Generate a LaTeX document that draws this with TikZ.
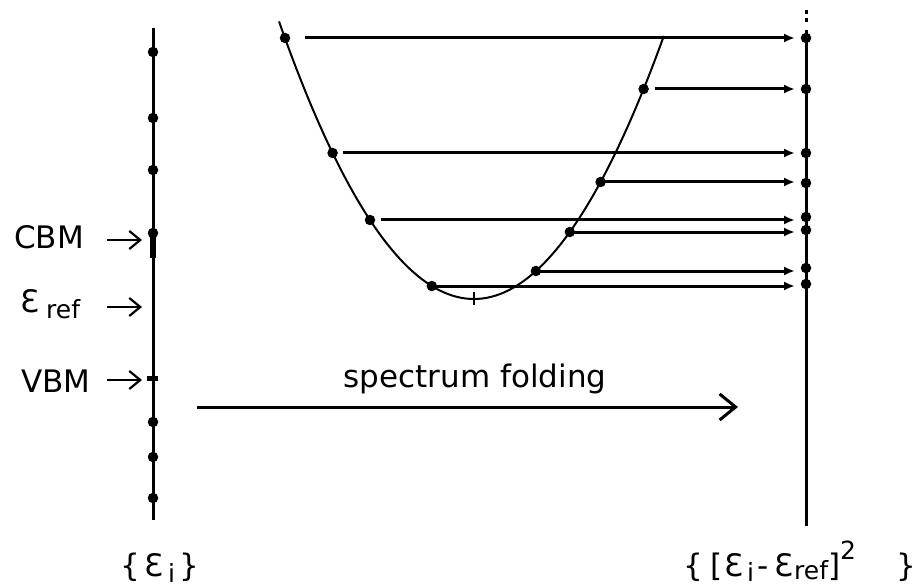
\documentclass[tikz,border=0pt]{standalone}
\usepackage{fontspec}
\setmainfont{DejaVu Sans}
\usetikzlibrary{arrows.meta}
\newcommand\epsE{Ɛ}
\newcommand\subf{\fontsize{25}{25}\selectfont}
\tikzset{
  axisline/.style={line width=3pt},
  bandcurve/.style={line width=2pt},
  hline/.style={line width=3pt,-{Latex[length=11pt,width=9pt]}},
  labarrow/.style={line width=2.2pt,-{Straight Barb[length=11pt,width=18pt]}},
  foldarrow/.style={line width=3pt,-{Straight Barb[length=16pt,width=26pt]}},
  dotmark/.style={circle,fill,inner sep=0pt,minimum size=10.5pt},
  lab/.style={font=\fontsize{31}{32}\selectfont,inner sep=0pt}
}
\begin{document}
\begin{tikzpicture}[x=1pt,y=-1pt]
\useasboundingbox (0,0) rectangle (918,588);
% ---------- left axis ----------
\coordinate (Ltop) at (153,28);
\coordinate (Lbot) at (153,520);
\draw[axisline] (Ltop) -- (Lbot);
\draw[line width=5.5pt] (153,237) -- (153,258);
\foreach \y/\n in {52/a,118/b,170/c,233/cbm,422/e,457/f,498/g}
  \node[dotmark] (L\n) at (153,\y) {};
\coordinate (Lvbm) at (153,378);
\draw[line width=5pt] ([xshift=-6pt]Lvbm) -- ([xshift=5pt]Lvbm);
% ---------- left labels ----------
\node[lab,anchor=base west] (cbm) at (14,248) {CBM};
\node[lab,anchor=base west] (eref) at (20,312) {\epsE\hspace{7pt}\raisebox{-6pt}{\subf ref}};
\node[lab,anchor=base west] (vbm) at (21,392) {VBM};
\coordinate (cbmtip) at (142,240);
\coordinate (ereftip) at (142,307);
\coordinate (vbmtip) at (142,380);
\draw[labarrow] (107,240) -- (cbmtip);
\draw[labarrow] (107,307) -- (ereftip);
\draw[labarrow] (107,380) -- (vbmtip);
% ---------- right axis ----------
\coordinate (Rtop) at (806,30);
\coordinate (Rbot) at (806,526);
\draw[axisline] (Rtop) -- (Rbot);
\fill (804.5,10.5) rectangle (807.5,14);
\fill (804.5,18.5) rectangle (807.5,22);
\foreach \y/\n in {38/1,89/2,153/3,183/4,217/5,230/6,268/7,284/8}
  \node[dotmark] (R\n) at (806,\y) {};
% ---------- band curve (parabola) ----------
\draw[bandcurve] plot[domain=-1.95:1.90,samples=90] ({474+100*\x},{299-73*\x*\x});
\draw[line width=2pt] (474,292) -- (474,305);
\foreach \x/\y/\n in {285/38/1,643.6/89/2,332.6/153/3,600.6/182/4,370/220/5,569.8/232/6,535.9/271/7,431.8/286/8}
  \node[dotmark] (c\n) at (\x,\y) {};
% ---------- folding lines ----------
\coordinate (arrx) at (795,0);
\draw[hline] ([xshift=20pt]c1.center) -- (c1 -| arrx);
\draw[hline] ([xshift=11pt]c2.center) -- (c2 -| arrx);
\draw[hline] ([xshift=10pt]c3.center) -- (c3 -| arrx);
\draw[hline] (c4.center) -- (c4 -| arrx);
\draw[hline] ([xshift=11pt]c5.center) -- (c5 -| arrx);
\draw[hline] (c6.center) -- (c6 -| arrx);
\draw[hline] (c7.center) -- (c7 -| arrx);
\draw[hline] (c8.center) -- (c8 -| arrx);
% ---------- spectrum folding ----------
\node[lab,anchor=base] (fold) at (475,387) {spectrum folding};
\coordinate (foldstart) at (197,407);
\coordinate (foldend) at (738,407);
\draw[foldarrow] (foldstart) -- (foldend);
% ---------- bottom labels ----------
\node[lab,anchor=base] (setE) at (160,576)
  {\{\hspace{5pt}\epsE\hspace{4pt}\raisebox{-6pt}{\subf i}\hspace{5pt}\}};
\node[lab,anchor=base west] (setF) at (683,576)
  {\{\hspace{8pt}[\hspace{2pt}\epsE\hspace{3pt}\raisebox{-5pt}{\subf i}\hspace{3pt}-\hspace{6pt}\epsE\hspace{1pt}\raisebox{-3pt}{\subf ref}]\raisebox{17pt}{\subf 2}\hspace{40pt}\}};
\end{tikzpicture}
\end{document}
